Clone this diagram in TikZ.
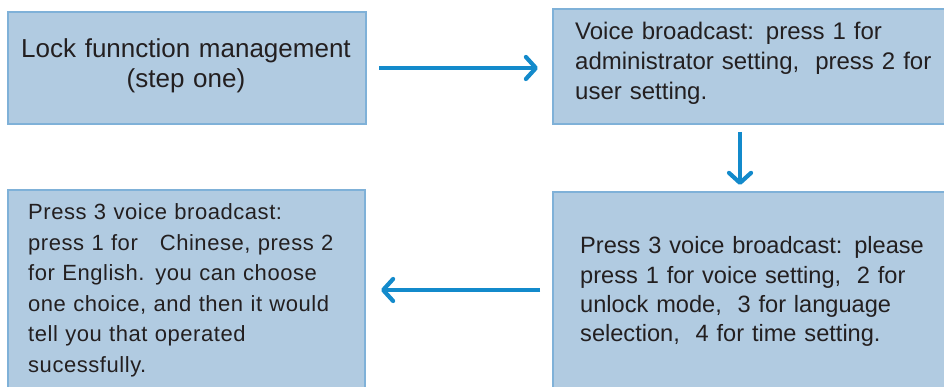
\documentclass[tikz,border=0pt]{standalone}
\usepackage{fontspec}
\setmainfont{Liberation Sans}
\usetikzlibrary{arrows.meta,calc}
\definecolor{boxfill}{HTML}{B1CBE1}
\definecolor{boxline}{HTML}{7FB1D8}
\definecolor{arrowblue}{HTML}{138ACB}
\definecolor{txtcol}{HTML}{231F20}
\begin{document}
\begin{tikzpicture}[x=1pt,y=-1pt,
  box/.style={draw=boxline, fill=boxfill, line width=2pt, rectangle, anchor=north west, inner sep=0pt},
  boxtext/.style={inner sep=0pt, text=txtcol},
  flow/.style={draw=arrowblue, line width=4.2pt, -{Straight Barb[length=10pt,width=22pt,line cap=round,line join=round]}}]
\useasboundingbox (0,0) rectangle (944,387);
% boxes
\node[box, minimum width=358pt, minimum height=112pt] (b1) at (7,11) {};
\node[box, minimum width=420pt, minimum height=115pt] (b2) at (552,8) {};
\node[box, minimum width=357pt, minimum height=220pt] (b3) at (7,189) {};
\node[box, minimum width=420pt, minimum height=220pt] (b4) at (552,191) {};
% texts
\node[boxtext, anchor=base, text width=350pt, align=center,
      font=\fontsize{26}{30}\selectfont] (t1) at (186,58)
  {Lock funnction management\\(step one)};
\node[boxtext, anchor=base west, text width=370pt, align=left,
      font=\fontsize{24}{30}\selectfont] (t2) at (575,40)
  {Voice broadcast: press 1 for\\administrator setting,\ \ press 2 for\\user setting.};
\node[boxtext, anchor=base west, text width=330pt, align=left,
      font=\fontsize{22}{30.5}\selectfont\addfontfeature{LetterSpace=2.5}] (t3) at (28,220)
  {Press 3 voice broadcast:\\press 1 for\ \ \ Chinese, press 2\\for English. you can choose\\one choice, and then it would\\tell you that operated\\sucessfully.};
\node[boxtext, anchor=base west, text width=360pt, align=left,
      font=\fontsize{23.6}{29.3}\selectfont] (t4) at (580,254)
  {Press 3 voice broadcast: please\\press 1 for voice setting,\ \ 2 for\\unlock mode,\ \ 3 for language\\selection,\ \ 4 for time setting.};
% connectors
\coordinate (dx) at (740,0);
\coordinate (ly) at (0,290);
\draw[flow] ($(b1.east)+(12,0)$) -- ($(b1.east -| b2.west)+(-14,0)$);
\draw[flow] ($(dx |- b2.south)+(0,7)$) -- ($(dx |- b4.north)+(0,-6)$);
\draw[flow] ($(ly -| b4.west)+(-12,0)$) -- ($(ly -| b3.east)+(15,0)$);
\end{tikzpicture}
\end{document}
